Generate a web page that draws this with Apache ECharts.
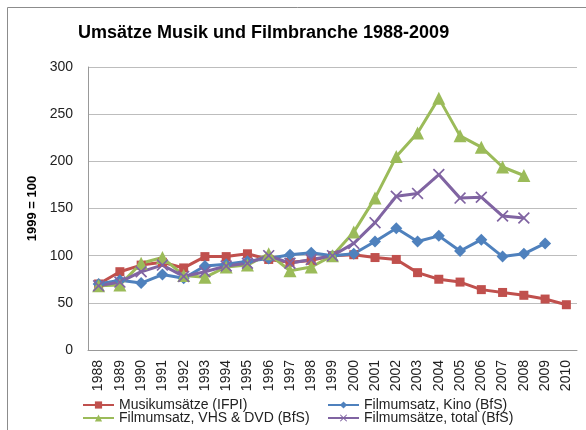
<!DOCTYPE html>
<html>
<head>
<meta charset="utf-8">
<script src="https://cdn.jsdelivr.net/npm/echarts@6/dist/echarts.min.js"></script>
<style>html,body{margin:0;padding:0;background:#fff;}#c{width:586px;height:430px;}</style>
</head>
<body>
<div id="c"></div>
<script>
var years = ['1988','1989','1990','1991','1992','1993','1994','1995','1996','1997','1998','1999','2000','2001','2002','2003','2004','2005','2006','2007','2008','2009','2010'];
var musik = [70, 83, 90, 93, 87, 99, 99, 102, 96, 93, 95, 100, 101, 98, 96, 82, 75, 72, 64, 61, 58, 54, 48];
var kino = [70, 74, 71, 80, 76, 89, 91, 94, 97, 101, 103, 100, 102, 115, 129, 115, 121, 105, 117, 99, 102, 113, null];
var vhs = [68, 69, 92, 98, 79, 77, 88, 90, 102, 84, 88, 100, 125, 161, 205, 230, 267, 227, 215, 194, 185, null, null];
var total = [68, 72, 83, 90, 78, 83, 89, 92, 100, 92, 96, 100, 113, 135, 163, 166, 186, 161, 162, 142, 140, null, null];
var names = ['Musikumsätze (IFPI)', 'Filmumsatz, Kino (BfS)', 'Filmumsatz, VHS & DVD (BfS)', 'Filmumsätze, total (BfS)'];
var yTicks = [0, 50, 100, 150, 200, 250, 300];

var FONT = '"Liberation Sans", Arial, sans-serif';
var xPath = 'path://M0,1L1,0L5,4L9,0L10,1L6,5L10,9L9,10L5,6L1,10L0,9L4,5Z';

function mkSeries(name, data, color, symbol, size) {
  return {
    name: name, type: 'line', data: data, symbol: symbol, symbolSize: size,
    showAllSymbol: true, connectNulls: false,
    lineStyle: {color: color, width: 3},
    itemStyle: {color: color},
    emphasis: {disabled: true}
  };
}

function mkLegend(name, left, top) {
  return {
    data: [name], left: left, top: top, itemWidth: 31, itemHeight: 9, itemGap: 0,
    padding: 0,
    textStyle: {fontFamily: FONT, fontSize: 14, color: '#222'}
  };
}

var chart = echarts.init(document.getElementById('c'), null, {renderer: 'canvas'});
chart.setOption({
  animation: false,
  backgroundColor: '#fff',
  graphic: [{
    type: 'rect', shape: {x: 7.5, y: 7.5, width: 700, height: 600},
    style: {fill: 'none', stroke: '#8c8c8c', lineWidth: 1}, silent: true, z: -10
  }],
  title: {
    text: 'Umsätze Musik und Filmbranche 1988-2009', left: 78, top: 24, padding: 0,
    textStyle: {fontFamily: FONT, fontSize: 18, fontWeight: 'bold', color: '#000'}
  },
  legend: [
    mkLegend(names[0], 82, 398),
    mkLegend(names[2], 82, 411),
    mkLegend(names[1], 327, 398),
    mkLegend(names[3], 327, 411)
  ],
  grid: {left: 88, top: 67, right: 9, bottom: 80},
  xAxis: {
    type: 'category', data: years, boundaryGap: true,
    axisLine: {show: true, lineStyle: {color: '#999', width: 1}},
    axisTick: {show: false},
    axisLabel: {rotate: 90, fontFamily: FONT, fontSize: 14, color: '#222', margin: 10, interval: 0}
  },
  yAxis: {
    type: 'value', min: yTicks[0], max: yTicks[yTicks.length - 1], interval: 50,
    name: '1999 = 100', nameLocation: 'middle', nameRotate: 90, nameGap: 46,
    nameTextStyle: {fontFamily: FONT, fontSize: 13, fontWeight: 'bold', color: '#000'},
    axisLine: {show: true, lineStyle: {color: '#999', width: 1}},
    axisTick: {show: false},
    axisLabel: {fontFamily: FONT, fontSize: 14, color: '#222', margin: 15},
    splitLine: {show: true, lineStyle: {color: '#bdbdbd', width: 1}}
  },
  series: [
    mkSeries(names[0], musik, '#C0504D', 'rect', 9),
    mkSeries(names[1], kino, '#4F81BD', 'diamond', 12),
    mkSeries(names[2], vhs, '#9BBB59', 'triangle', 13),
    mkSeries(names[3], total, '#8064A2', xPath, 12)
  ]
});
</script>
</body>
</html>
